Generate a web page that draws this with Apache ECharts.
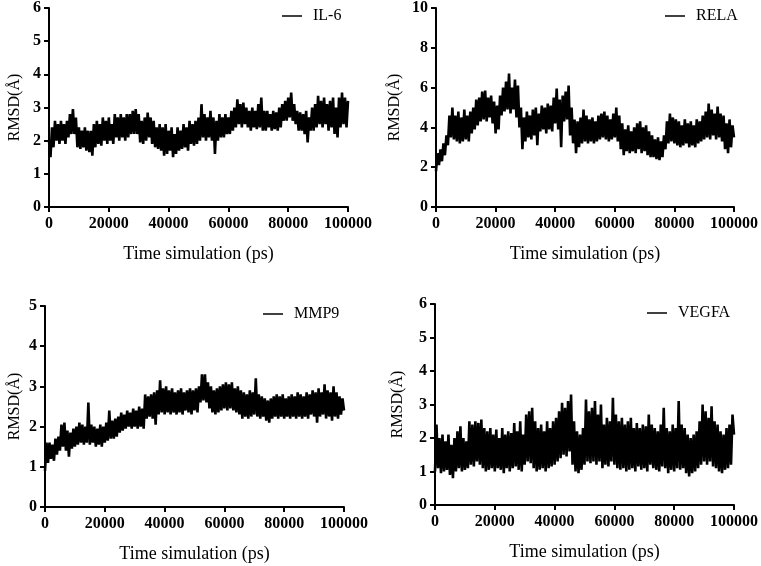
<!DOCTYPE html>
<html><head><meta charset="utf-8">
<script src="https://cdn.jsdelivr.net/npm/echarts@6/dist/echarts.min.js"></script>
<style>html,body{margin:0;padding:0;background:#fff}#c{width:761px;height:566px}</style>
</head><body><div id="c"></div>
<script>
// time step (ps) between samples
var timeStep = 500;
var xTicks = [0, 20000, 40000, 60000, 80000, 100000];
var panelNames = ['IL-6', 'RELA', 'MMP9', 'VEGFA'];
var yMax = [6, 10, 5, 6];
var yInterval = [1, 2, 1, 1];

var il6 = [2.0,1.5,2.4,1.8,2.6,2.0,2.5,1.9,2.6,2.0,2.5,1.9,2.6,2.1,2.8,2.2,2.95,2.2,2.7,1.8,
2.4,1.75,2.3,1.8,2.4,1.7,2.3,1.65,2.3,1.55,2.5,1.8,2.6,1.9,2.5,1.85,2.7,2.0,2.6,1.9,
2.7,2.0,2.5,1.9,2.8,2.1,2.7,2.0,2.8,2.1,2.7,2.0,2.8,2.1,2.8,2.2,2.9,2.2,2.95,2.2,
2.8,1.95,2.6,1.9,2.7,2.0,2.85,2.1,2.7,1.9,2.6,1.8,2.4,1.75,2.5,1.7,2.4,1.55,2.5,1.6,
2.3,1.7,2.4,1.5,2.2,1.6,2.4,1.7,2.3,1.75,2.5,1.8,2.4,1.7,2.6,1.9,2.5,1.85,2.6,1.9,
2.7,2.0,3.1,2.1,2.8,2.0,2.7,2.1,2.9,2.0,2.7,1.6,2.6,2.0,2.8,2.1,2.7,2.1,2.8,2.2,
2.7,2.2,2.9,2.3,3.0,2.4,3.25,2.5,3.1,2.4,3.15,2.5,3.0,2.4,2.9,2.3,3.0,2.4,2.9,2.35,
3.1,2.4,3.3,2.3,2.9,2.3,2.9,2.4,2.8,2.3,2.9,2.35,2.85,2.3,3.0,2.4,3.1,2.6,3.2,2.6,
3.3,2.7,3.45,2.6,3.1,2.5,2.9,2.3,2.85,2.3,2.8,2.2,2.9,1.95,2.7,2.3,3.0,2.3,3.1,2.4,
3.35,2.5,3.2,2.4,3.3,2.5,3.1,2.3,3.2,2.4,3.3,2.2,3.0,2.1,3.3,2.4,3.45,2.5,3.3,2.4,3.2];

var rela = [1.8,2.7,2.1,2.9,2.3,3.2,2.6,3.6,3.1,4.6,3.5,5.0,3.4,4.6,3.3,4.8,3.2,4.5,3.3,4.9,
3.4,4.6,3.3,4.8,3.7,5.0,3.9,5.4,4.1,5.5,4.3,5.8,4.4,5.85,4.3,5.5,4.5,5.6,4.2,5.3,
3.7,5.1,3.9,5.6,4.6,6.0,4.8,6.3,4.9,6.7,4.7,6.0,4.9,6.4,4.5,6.1,4.0,5.0,2.9,4.5,
3.3,4.8,3.5,4.6,3.4,4.9,3.6,5.0,3.1,4.7,3.8,5.1,3.9,5.0,3.7,5.2,3.9,5.1,3.8,5.5,
4.2,5.95,3.9,5.4,3.0,5.6,4.3,5.8,4.4,6.1,3.6,5.0,3.2,4.4,2.7,4.3,3.0,4.5,3.2,4.9,
3.3,4.6,3.2,4.4,3.3,4.5,3.2,4.3,3.3,4.6,3.4,4.7,3.5,4.8,3.4,4.6,3.3,4.4,3.4,4.7,
3.5,5.0,3.3,4.6,2.9,4.2,2.6,3.9,2.8,4.1,2.7,3.8,2.8,4.0,2.7,4.2,2.9,4.3,2.7,4.0,
2.8,4.1,2.6,3.8,2.5,3.6,2.5,3.4,2.4,3.5,2.35,3.3,2.5,3.6,2.9,4.3,3.2,4.7,3.3,4.5,
3.2,4.4,3.1,4.3,3.0,4.1,3.1,4.4,3.2,4.2,3.0,4.3,3.1,4.1,3.0,4.4,3.2,4.3,3.3,4.6,
3.4,4.8,3.5,5.2,3.4,4.9,3.6,4.7,3.4,5.05,3.5,4.7,3.3,4.6,2.9,4.2,2.7,4.4,3.0,4.1,3.5];

var mmp9 = [0.9,1.6,1.1,1.6,1.2,1.55,1.15,1.7,1.3,1.75,1.4,2.05,1.5,2.1,1.4,1.9,1.25,1.85,1.45,1.95,
1.5,2.0,1.55,2.1,1.6,2.05,1.55,2.0,1.6,2.6,1.55,2.05,1.6,2.0,1.5,1.95,1.55,2.05,1.5,2.0,
1.6,2.1,1.65,2.4,1.7,2.15,1.7,2.2,1.75,2.25,1.85,2.35,1.9,2.3,1.95,2.4,2.0,2.35,1.95,2.45,
2.0,2.4,1.95,2.5,2.0,2.45,1.95,2.8,2.2,2.75,2.25,2.8,2.2,2.85,2.05,2.9,2.3,3.15,2.35,2.95,
2.3,3.0,2.35,2.9,2.3,2.95,2.35,2.85,2.3,2.9,2.35,2.95,2.3,2.85,2.4,2.9,2.35,2.95,2.3,2.9,
2.4,2.95,2.35,3.0,2.6,3.3,2.65,3.3,2.6,3.1,2.45,3.0,2.35,2.9,2.3,2.95,2.35,3.0,2.4,3.05,
2.45,3.1,2.4,3.05,2.45,3.1,2.4,2.95,2.35,3.0,2.3,2.9,2.2,2.85,2.25,2.8,2.2,2.9,2.25,2.85,
2.3,3.2,2.25,2.8,2.2,2.75,2.25,2.7,2.15,2.65,2.1,2.7,2.2,2.75,2.25,2.8,2.2,2.75,2.25,2.8,
2.2,2.7,2.25,2.75,2.2,2.8,2.25,2.75,2.2,2.85,2.25,2.8,2.2,2.75,2.25,2.85,2.2,2.8,2.3,2.9,
2.25,2.85,2.1,2.95,2.25,2.85,2.3,3.05,2.2,2.9,2.25,2.85,2.15,3.0,2.25,2.85,2.2,2.75,2.3,2.7,2.4];

var vegfa = [1.0,2.4,1.1,2.0,0.95,2.1,1.0,1.9,1.05,2.1,0.9,1.8,0.8,2.0,1.0,2.2,1.1,2.35,1.0,2.0,
1.05,1.9,1.1,2.5,1.2,2.4,1.15,2.5,1.3,2.45,1.2,2.55,1.1,2.3,1.0,2.2,1.05,2.3,1.1,2.1,
1.0,2.25,1.1,2.0,1.05,2.3,0.95,2.1,1.1,2.2,1.0,2.15,1.1,2.45,1.15,2.2,1.05,2.5,1.0,2.1,
1.2,2.7,1.3,2.8,1.25,2.9,1.1,2.5,1.0,2.3,1.05,2.4,1.1,2.2,1.0,2.5,1.1,2.3,1.15,2.5,
1.2,2.6,1.3,2.8,1.4,3.05,1.5,2.9,1.45,3.1,1.6,3.3,1.2,2.5,1.0,2.2,0.95,2.1,1.05,2.3,
1.2,3.15,1.3,2.8,1.25,2.9,1.3,3.1,1.2,2.7,1.3,3.0,1.1,2.4,1.2,2.6,1.15,2.5,1.3,3.2,
1.2,2.7,1.1,2.5,1.05,2.6,1.1,2.4,1.0,2.5,1.05,2.6,1.1,2.3,1.0,2.45,1.15,2.3,1.05,2.4,
1.1,2.35,1.0,2.7,1.2,2.4,1.1,2.3,1.05,2.2,1.0,2.4,1.15,2.9,1.1,2.3,0.95,2.2,1.05,2.4,
1.0,2.3,1.1,3.1,1.05,2.4,1.1,2.3,0.95,2.1,0.85,2.0,0.95,2.1,1.0,2.2,1.1,2.5,1.2,3.0,
1.3,2.8,1.2,2.6,1.3,2.95,1.15,2.5,1.1,2.4,1.0,2.2,0.95,2.1,1.05,2.3,1.1,2.4,1.2,2.7,2.1];

var allSeries = [il6, rela, mmp9, vegfa];

var FONT = '"Liberation Serif","Times New Roman",serif';
var grids = [
  {left: 49, top: 7, width: 299, height: 200},
  {left: 436, top: 7, width: 300, height: 200},
  {left: 45, top: 306, width: 299, height: 201},
  {left: 435, top: 304, width: 299, height: 201}
];
var yNameGaps = [26, 33, 22, 29];
var legendPos = [
  {left: 282, top: 8},
  {left: 665, top: 8},
  {left: 263, top: 306},
  {left: 647, top: 305}
];

function pairs(vals) {
  var out = [];
  for (var i = 0; i < vals.length; i++) out.push([i * timeStep, vals[i]]);
  return out;
}

var axisLineStyle = {show: true, lineStyle: {color: '#000', width: 2}};
var option = {
  animation: false,
  backgroundColor: '#fff',
  grid: grids.map(function (g) { return Object.assign({containLabel: false}, g); }),
  xAxis: grids.map(function (g, k) {
    return {
      type: 'value', gridIndex: k, min: 0, max: 100000, interval: 20000,
      axisLine: axisLineStyle,
      axisTick: {show: true, length: 5, lineStyle: {color: '#000', width: 2}},
      splitLine: {show: false},
      axisLabel: {color: '#000', fontFamily: FONT, fontWeight: 'bold', fontSize: 16, margin: 9,
        formatter: function (v) { return xTicks.indexOf(v) >= 0 ? String(v) : ''; }},
      name: 'Time simulation (ps)', nameLocation: 'middle', nameGap: 38,
      nameTextStyle: {color: '#000', fontFamily: FONT, fontSize: 18}
    };
  }),
  yAxis: grids.map(function (g, k) {
    return {
      type: 'value', gridIndex: k, min: 0, max: yMax[k], interval: yInterval[k],
      axisLine: axisLineStyle,
      axisTick: {show: true, length: 5, lineStyle: {color: '#000', width: 2}},
      splitLine: {show: false},
      axisLabel: {color: '#000', fontFamily: FONT, fontWeight: 'bold', fontSize: 16, margin: 8},
      name: 'RMSD(Å)', nameLocation: 'middle', nameGap: yNameGaps[k], nameRotate: 90,
      nameTextStyle: {color: '#000', fontFamily: FONT, fontSize: 16}
    };
  }),
  legend: panelNames.map(function (n, k) {
    return {
      data: [n], left: legendPos[k].left, top: legendPos[k].top, padding: 0,
      icon: 'rect', itemWidth: 20, itemHeight: 1.5,
      itemStyle: {color: '#000'},
      textStyle: {color: '#000', fontFamily: FONT, fontSize: 16, padding: [0, 0, 0, 6]},
      selectedMode: false
    };
  }),
  series: panelNames.map(function (n, k) {
    return {
      name: n, type: 'line', xAxisIndex: k, yAxisIndex: k,
      data: pairs(allSeries[k]), showSymbol: false, symbol: 'none', sampling: null,
      lineStyle: {color: '#000', width: 2.6, join: 'bevel'}, itemStyle: {color: '#000'},
      clip: true
    };
  })
};
var chart = echarts.init(document.getElementById('c'), null, {renderer: 'canvas'});
chart.setOption(option);
</script></body></html>
